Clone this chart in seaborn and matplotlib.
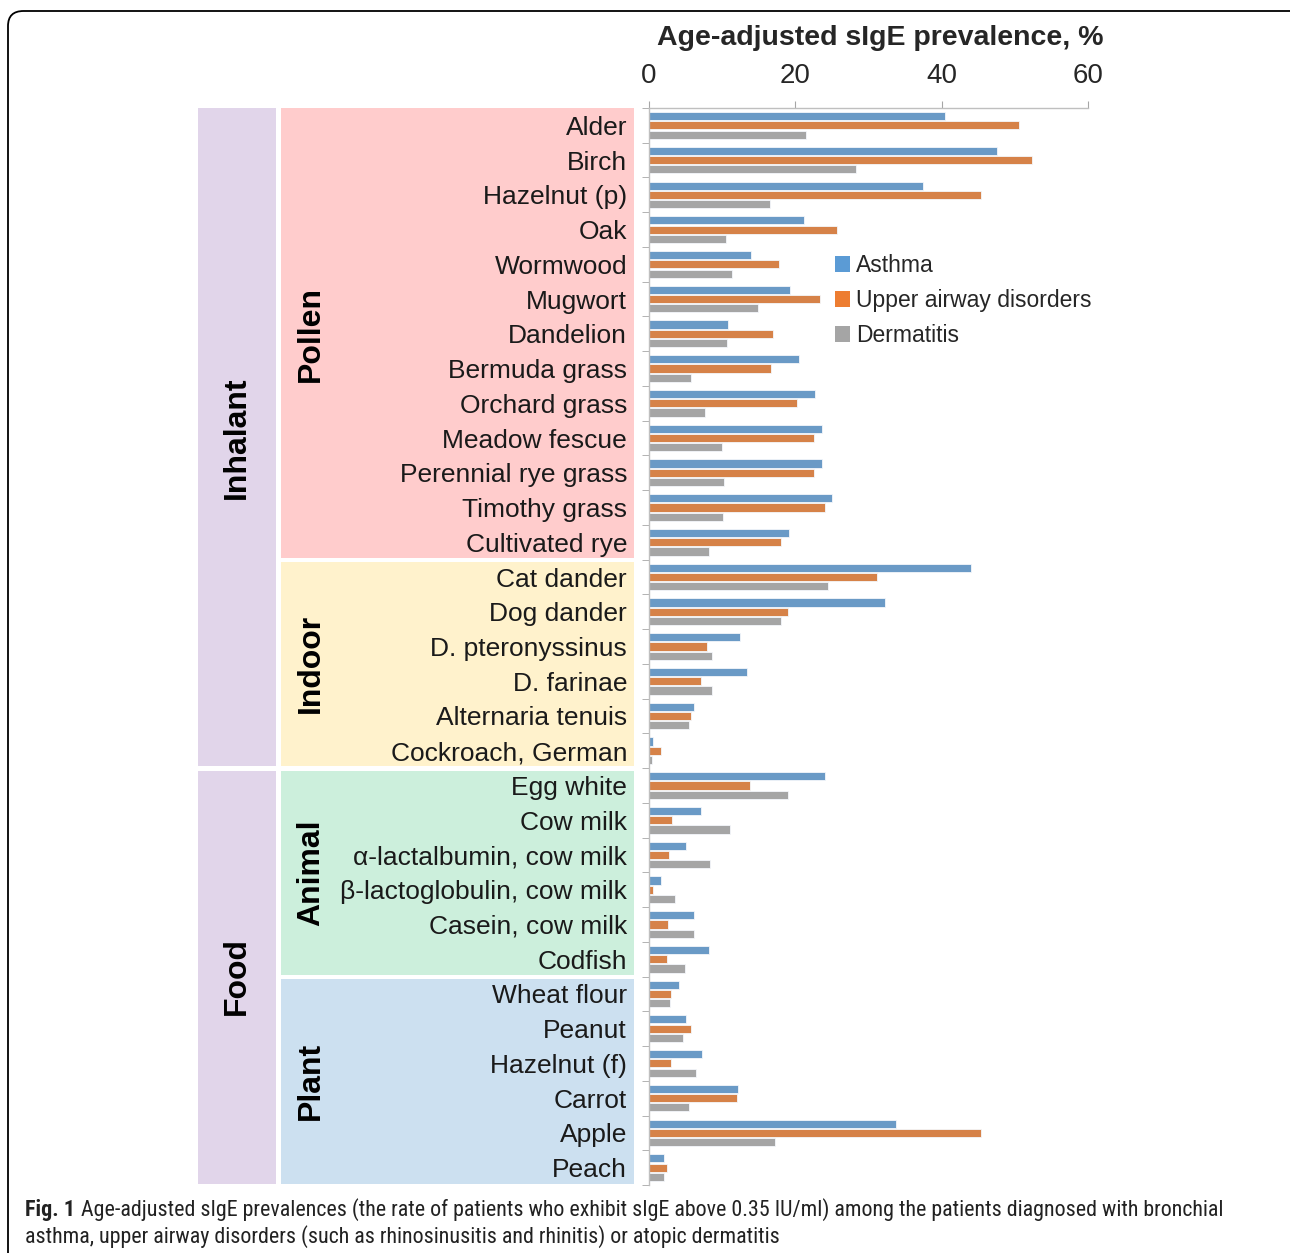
import pandas as pd
import seaborn as sns
import matplotlib
matplotlib.use("Agg")
import matplotlib.pyplot as plt
from matplotlib import font_manager
from matplotlib.patches import Rectangle, FancyBboxPatch, Patch
from matplotlib.transforms import blended_transform_factory

# allergen names, top to bottom
allergens = [
    "Alder", "Birch", "Hazelnut (p)", "Oak", "Wormwood", "Mugwort", "Dandelion",
    "Bermuda grass", "Orchard grass", "Meadow fescue", "Perennial rye grass",
    "Timothy grass", "Cultivated rye",
    "Cat dander", "Dog dander", "D. pteronyssinus", "D. farinae",
    "Alternaria tenuis", "Cockroach, German",
    "Egg white", "Cow milk", "α-lactalbumin, cow milk", "β-lactoglobulin, cow milk",
    "Casein, cow milk", "Codfish",
    "Wheat flour", "Peanut", "Hazelnut (f)", "Carrot", "Apple", "Peach",
]

asthma = [40.4, 47.6, 37.4, 21.2, 14.0, 19.3, 10.8, 20.5, 22.7, 23.6, 23.7, 25.0, 19.2,
          44.0, 32.3, 12.4, 13.4, 6.1, 0.5,
          24.1, 7.1, 5.1, 1.6, 6.1, 8.2,
          4.1, 5.0, 7.3, 12.1, 33.8, 2.1]
upper_airway = [50.6, 52.3, 45.4, 25.7, 17.7, 23.4, 17.0, 16.7, 20.2, 22.6, 22.5, 24.1, 18.1,
                31.2, 19.0, 7.9, 7.1, 5.8, 1.6,
                13.8, 3.1, 2.7, 0.5, 2.6, 2.4,
                3.0, 5.8, 3.0, 12.0, 45.4, 2.4]
dermatitis = [21.5, 28.3, 16.6, 10.5, 11.4, 14.9, 10.6, 5.7, 7.7, 10.0, 10.2, 10.1, 8.2,
              24.4, 18.1, 8.6, 8.6, 5.4, 0.4,
              19.0, 11.1, 8.3, 3.6, 6.1, 4.9,
              2.9, 4.7, 6.4, 5.5, 17.2, 2.0]

series_names = ["Asthma", "Upper airway disorders", "Dermatitis"]
colors = ["#5B9BD5", "#ED7D31", "#A5A5A5"]

# (label, first index, last index, colour)
main_groups = [("Inhalant", 0, 18, "#E1D5EA"), ("Food", 19, 30, "#E1D5EA")]
sub_groups = [("Pollen", 0, 12, "#FFCCCC"), ("Indoor", 13, 18, "#FFF2CC"),
              ("Animal", 19, 24, "#CCEFDC"), ("Plant", 25, 30, "#CCE0F0")]

df = pd.DataFrame({
    "allergen": allergens * 3,
    "value": asthma + upper_airway + dermatitis,
    "group": [s for s in series_names for _ in allergens],
})

sns.set_style("white")
names = {f.name for f in font_manager.fontManager.ttflist}
plt.rcParams["font.family"] = ["Liberation Sans", "DejaVu Sans"]
cap_font = "Liberation Sans"
for cand in ["Liberation Sans Narrow", "DejaVu Sans Condensed", "Roboto Condensed"]:
    if cand in names:
        cap_font = cand
        break

W, H = 1290, 1253
fig = plt.figure(figsize=(W / 100, H / 100), dpi=100)

# outer rounded frame
frame = FancyBboxPatch((8 / W, -0.05), 1.2, 1.05 - 11 / H,
                       boxstyle="round,pad=0,rounding_size=0.012",
                       transform=fig.transFigure, facecolor="none",
                       edgecolor="black", linewidth=1.3)
fig.patches.append(frame)

ax = fig.add_axes([649 / W, 1 - 1185 / H, (1088 - 649) / W, (1185 - 108) / H])
ax.patch.set_alpha(0)

sns.barplot(data=df, x="value", y="allergen", hue="group", hue_order=series_names,
            palette=colors, orient="h", width=0.8, gap=0.12, edgecolor="#F4F7FB",
            linewidth=0.6, ax=ax, legend=False)

n = len(allergens)
ax.set_xlim(0, 60)
ax.set_ylim(n - 0.5, -0.5)
ax.set_xlabel("")
ax.set_ylabel("")

grey = "#A6A6A6"
for s in ["right", "bottom"]:
    ax.spines[s].set_visible(False)
for s in ["top", "left"]:
    ax.spines[s].set_color("#BFBFBF")
    ax.spines[s].set_linewidth(1.0)

ax.xaxis.tick_top()
ax.set_xticks([0, 20, 40, 60])
ax.tick_params(axis="x", direction="out", length=5, color=grey, pad=9,
               labelsize=20, top=True, bottom=False)
ax.set_yticks(range(n))
ax.set_yticks([i + 0.5 for i in range(-1, n)], minor=True)
ax.tick_params(axis="y", which="major", length=0, pad=15.8, labelsize=19,
               labelcolor="#1a1a1a")
ax.tick_params(axis="y", which="minor", length=5, color=grey, left=True)

# coloured group boxes behind the labels
tr = blended_transform_factory(fig.transFigure, ax.transData)
for label, a, b, col in sub_groups:
    top = a - 0.5 + (0.07 if a > 0 else 0)
    bot = b + 0.5 - (0.05 if b < n - 1 else 0.03)
    ax.add_patch(Rectangle((281 / W, top), (634 - 281) / W, bot - top, transform=tr,
                           facecolor=col, edgecolor="none", clip_on=False, zorder=0.5))
    ax.text(311 / W, (a + b) / 2, label, transform=tr, rotation=90, ha="center",
            va="center", fontsize=23, fontweight="bold", color="black")
for label, a, b, col in main_groups:
    top = a - 0.5 + (0.07 if a > 0 else 0)
    bot = b + 0.5 - (0.05 if b < n - 1 else 0.03)
    ax.add_patch(Rectangle((198 / W, top), (276 - 198) / W, bot - top, transform=tr,
                           facecolor=col, edgecolor="none", clip_on=False, zorder=0.5))
    ax.text(237 / W, (a + b) / 2, label, transform=tr, rotation=90, ha="center",
            va="center", fontsize=23, fontweight="bold", color="black")

fig.text(880 / W, 1 - 38 / H, "Age-adjusted sIgE prevalence, %", ha="center",
         va="center", fontsize=20.5, fontweight="bold")

handles = [Patch(facecolor=c, edgecolor="none") for c in colors]
fig.legend(handles, series_names, loc="upper left",
           bbox_to_anchor=(826 / W, 1 - 245 / H), frameon=False, fontsize=16.5,
           handlelength=0.65, handleheight=0.65, handletextpad=0.25,
           labelspacing=0.52, borderaxespad=0)

# caption
cap_size = 15.8
cap1 = fig.text(25 / W, 1 - 1210 / H, "Fig. 1", fontsize=cap_size, fontweight="bold",
                family=cap_font, va="center", color="#222222")
fig.canvas.draw()
bb = cap1.get_window_extent()
fig.text((bb.x1 + 6) / W, 1 - 1210 / H,
         "Age-adjusted sIgE prevalences (the rate of patients who exhibit sIgE above "
         "0.35 IU/ml) among the patients diagnosed with bronchial",
         fontsize=cap_size, family=cap_font, va="center", color="#222222")
fig.text(25 / W, 1 - 1237 / H,
         "asthma, upper airway disorders (such as rhinosinusitis and rhinitis) or atopic dermatitis",
         fontsize=cap_size, family=cap_font, va="center", color="#222222")

fig.savefig("out.png", dpi=100)
